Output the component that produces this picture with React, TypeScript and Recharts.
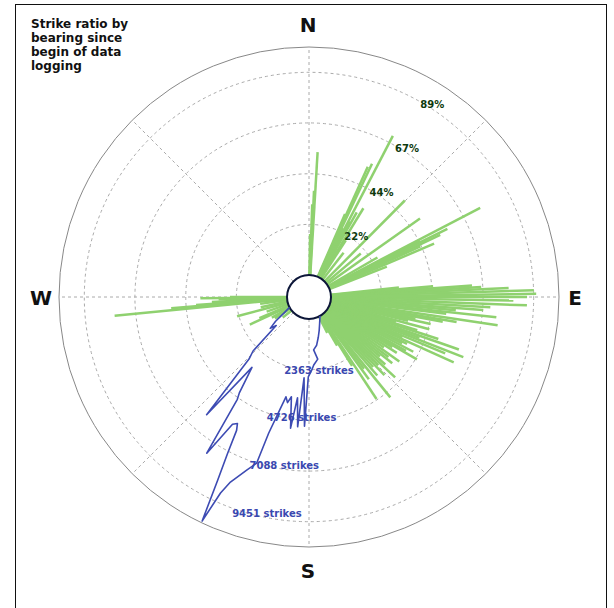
import React from 'react';
import { RadarChart, Radar, PolarGrid, PolarAngleAxis, PolarRadiusAxis } from 'recharts';

// compass bearings (deg, clockwise from north)
const gridBearings = [0, 45, 90, 135, 180, 225, 270, 315];
const compassLabels: Record<number, string> = { 0: 'N', 90: 'E', 180: 'S', 270: 'W' };

// strike ratio rings (%)
const ratioTicks = [22.2, 44.4, 66.7, 88.9];
const ratioLabels = ['22%', '44%', '67%', '89%'];

// strike count rings
const strikeTicks = [2363, 4726, 7088, 9451];
const strikeMax = 10632;

// green spokes: bearing / strike ratio (%)
const greenBearing = [
  1, 2, 2.7, 3.4,
  23.5, 24.3, 25.3, 26.2, 27.5, 28.5, 29.4, 31.5, 33,
  38, 44.8, 50, 54.7,
  60, 62.5, 63.3, 63.8, 64.7, 65.6, 66.9, 68.7,
  84, 85, 86, 86.7, 87.4, 88.3, 89.2, 90, 91, 92.2, 93.2, 94.3, 95.2, 96.2, 97, 98.5, 99.6, 100.5,
  101.5, 102.5, 103.5, 105, 106, 107, 108, 109.3, 110.3, 111.3, 112.5, 113.5, 114.3, 115.5, 116.5,
  117.7, 119, 120, 121, 122.5, 124, 125.5, 127, 128.5, 130, 131.5, 133, 134.5, 136, 137.5, 139,
  141, 142.5, 144, 146.5, 148, 150, 153,
  232, 238, 241, 245, 247, 251, 255, 258, 262, 264.5, 265.3, 266, 267, 267.7, 268.5, 269.3, 270,
];
const greenRatio = [
  18, 31, 37, 54,
  30, 53, 55, 24, 70, 28, 33, 36, 20,
  15, 50, 20, 50,
  25, 75, 45, 58, 54, 44, 50, 27,
  30, 45, 62, 66, 78, 89, 90, 86, 80, 86, 70, 67, 55, 73, 51, 74, 56, 50,
  38, 45, 35, 45, 30, 40, 50, 60, 42, 63, 55, 35, 60, 38, 36,
  42, 39, 45, 33, 36, 30, 39, 34, 37, 31, 35, 42, 33, 38, 32, 36,
  47, 30, 35, 44, 26, 15, 8,
  5, 8, 9, 19, 14, 10, 23, 12, 12, 76, 51, 40, 33, 22, 30, 38, 25,
];

// blue trace: bearing / strike count, in drawing order
const blueBearing = [
  150, 158, 163, 167, 171, 175, 172, 176, 178,
  180.5, 182, 183.5, 185, 186.5, 188, 190, 191.5, 193, 194.5, 196.5, 197.5, 199.8, 203, 204.3, 205.5,
  206.5, 207.5, 208.5, 209.5, 211, 213.2, 215, 216, 219, 221, 224, 226, 229, 231, 234, 238, 242,
];
const blueStrikes = [
  0, 300, 600, 900, 1250, 1450, 1900, 2150, 2400,
  2700, 5000, 2750, 5050, 3700, 5150, 3700, 4000, 3750, 4400, 5600, 7100, 7550, 8350, 9000, 10550,
  8500, 7200, 6050, 5750, 5900, 7680, 4800, 4500, 3200, 6250, 3000, 2600, 1000, 1300, 900, 300, 0,
];

const greenData = greenBearing.map((b, i) => ({ bearing: b, ratio: greenRatio[i] }));
const blueData = blueBearing.map((b, i) => ({ bearing: b, strikes: blueStrikes[i] }));

const W = 614;
const H = 608;
const CX = 309;
const CY = 297;
const INNER = 22;
const OUTER = 250;
const FONT = '"DejaVu Sans", sans-serif';

const toXY = (r: number, angle: number) => {
  const rad = (-angle * Math.PI) / 180;
  return { x: CX + r * Math.cos(rad), y: CY + r * Math.sin(rad) };
};

const Spokes = (props: any) => {
  const pts = props.points || [];
  return (
    <g>
      {pts.map((p: any, i: number) => {
        const s = toXY(INNER, p.angle);
        return (
          <line key={i} x1={s.x} y1={s.y} x2={p.x} y2={p.y} stroke='#8fd16f' strokeWidth={2.5} />
        );
      })}
    </g>
  );
};

const Trace = (props: any) => {
  const pts = props.points || [];
  const d = pts.map((p: any, i: number) => `${i ? 'L' : 'M'}${p.x},${p.y}`).join(' ');
  return <path d={d} fill='none' stroke='#3d4bb3' strokeWidth={1.6} strokeLinejoin='round' />;
};

const CompassTick = (props: any) => {
  const { payload } = props;
  const label = compassLabels[payload.value];
  if (!label) return null;
  const rad = (-payload.coordinate * Math.PI) / 180;
  const x = CX + (OUTER + 17) * Math.cos(rad) - 1;
  const y = CY + (OUTER + 23) * Math.sin(rad) + 1;
  return (
    <text x={x} y={y} textAnchor='middle' dominantBaseline='central' fontFamily={FONT} fontWeight='bold' fontSize={20} fill='#111'>
      {label}
    </text>
  );
};

const RatioTick = (props: any) => {
  const { x, y, payload } = props;
  const idx = ratioTicks.indexOf(payload.value);
  return (
    <text x={x - 1} y={y + 2} textAnchor='start' dominantBaseline='central' fontFamily={FONT} fontWeight='bold' fontSize={10} fill='#0d3a0d'>
      {ratioLabels[idx] ?? ''}
    </text>
  );
};

const StrikeTick = (props: any) => {
  const { x, y, payload } = props;
  return (
    <text x={x} y={y + 5} textAnchor='start' dominantBaseline='central' fontFamily={FONT} fontWeight='bold' fontSize={10} fill='#3a48b0'>
      {`${payload.value} strikes`}
    </text>
  );
};

const chartProps = {
  width: W,
  height: H,
  cx: CX,
  cy: CY,
  innerRadius: INNER,
  outerRadius: OUTER,
  margin: { top: 0, right: 0, bottom: 0, left: 0 },
};

export default function App() {
  return (
    <div style={{ position: 'absolute', left: 0, top: 0, width: W, height: H, background: '#fff', overflow: 'hidden' }}>
      <div style={{ position: 'absolute', left: 15, top: 4, width: 590, height: 650, border: '1.5px solid #111' }} />
      <div style={{ position: 'absolute', left: 0, top: 0 }}>
        <RadarChart {...chartProps} data={greenData}>
          <PolarGrid gridType='circle' stroke='#aaa' strokeDasharray='3 3' />
          <PolarAngleAxis
            dataKey='bearing'
            type='number'
            domain={[0, 360]}
            ticks={gridBearings}
            tick={<CompassTick />}
            tickLine={false}
            axisLine={false}
          />
          <PolarRadiusAxis
            type='number'
            domain={[0, 100]}
            ticks={ratioTicks}
            angle={60}
            tick={<RatioTick />}
            tickLine={false}
            axisLine={false}
          />
          <Radar dataKey='ratio' shape={Spokes} dot={false} isAnimationActive={false} />
        </RadarChart>
      </div>
      <div style={{ position: 'absolute', left: 0, top: 0 }}>
        <RadarChart {...chartProps} data={blueData}>
          <PolarGrid gridType='circle' radialLines={false} polarRadius={[OUTER]} polarAngles={[]} stroke='#888' />
          <PolarGrid gridType='circle' radialLines={false} polarRadius={[INNER]} polarAngles={[]} stroke='#0c1638' strokeWidth={2} />
          <PolarAngleAxis dataKey='bearing' type='number' domain={[0, 360]} tick={false} tickLine={false} axisLine={false} />
          <PolarRadiusAxis
            type='number'
            domain={[0, strikeMax]}
            ticks={strikeTicks}
            angle={-110}
            tick={<StrikeTick />}
            tickLine={false}
            axisLine={false}
          />
          <Radar dataKey='strikes' shape={Trace} dot={false} isAnimationActive={false} />
        </RadarChart>
      </div>
      <div
        style={{
          position: 'absolute',
          left: 31,
          top: 17,
          fontFamily: FONT,
          fontWeight: 'bold',
          fontSize: 12,
          lineHeight: '14px',
          color: '#111',
        }}
      >
        Strike ratio by
        <br />
        bearing since
        <br />
        begin of data
        <br />
        logging
      </div>
    </div>
  );
}
